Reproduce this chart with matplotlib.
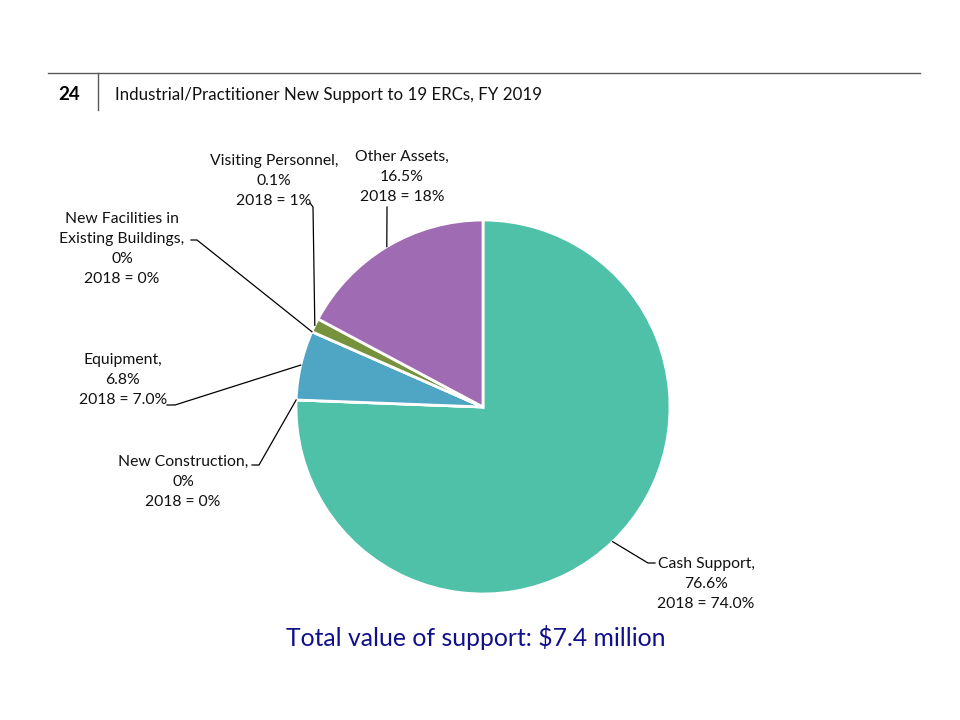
import numpy as np
import matplotlib
matplotlib.use("Agg")
import matplotlib.pyplot as plt
from matplotlib.lines import Line2D

# ---------------- data ----------------
categories = ["Cash Support", "New Construction", "Equipment",
              "New Facilities in\nExisting Buildings", "Visiting Personnel", "Other Assets"]
slice_share = [75.6, 0.0, 6.0, 0.0, 1.2, 17.2]          # drawn wedge sizes
pct_2019 = ["76.6%", "0%", "6.8%", "0%", "0.1%", "16.5%"]
pct_2018 = ["74.0%", "0%", "7.0%", "0%", "1%", "18%"]
colors = ["#50C1A9", "#50C1A9", "#4EA5C4", "#76923C", "#76923C", "#9F6BB2"]
title = "Industrial/Practitioner New Support to 19 ERCs, FY 2019"
slide_no = "24"
total_text = "Total value of support: $7.4 million"

W, H = 960, 720
FONT = "Lato"
plt.rcParams['font.family'] = [FONT, 'DejaVu Sans']

fig = plt.figure(figsize=(W / 100, H / 100), dpi=100)
fig.patch.set_facecolor("white")

def fx(x):
    return x / W

def fy(y):
    return 1 - y / H

# header
fig.add_artist(Line2D([fx(48), fx(920)], [fy(73), fy(73)], color="#595959", lw=1.0))
fig.add_artist(Line2D([fx(98), fx(98)], [fy(73), fy(110)], color="#595959", lw=1.0))
fig.text(fx(69), fy(94), slide_no, ha="center", va="center", fontsize=13.5,
         fontweight="bold", color="black")
fig.text(fx(115), fy(95), title, ha="left", va="center", fontsize=12.2, color="#111111")

# pie
cx, cy, R = 483, 407, 187
ax = fig.add_axes([fx(cx - R), fy(cy + R), 2 * R / W, 2 * R / H])
wedges, _ = ax.pie(slice_share, colors=colors, startangle=90, counterclock=False,
                   wedgeprops=dict(edgecolor="white", linewidth=2.0))
ax.set_xlim(-1, 1)
ax.set_ylim(-1, 1)
ax.set_aspect("equal")
ax.axis("off")

# label layout (pixel positions): text center, elbow points
layout = {
    0: dict(text=(706, 584), elbow=[(655, 563), (648, 563)]),
    1: dict(text=(183, 482), elbow=[(252, 465), (259, 465)]),
    2: dict(text=(123, 380), elbow=[(167, 405), (175, 405)]),
    3: dict(text=(122, 249), elbow=[(191, 240), (197, 240)]),
    4: dict(text=(274, 181), elbow=[(310, 203), (313, 207)]),
    5: dict(text=(402, 177), elbow=[(387, 207)]),
}

fig.canvas.draw()
inv = fig.transFigure.inverted()
for i, w in enumerate(wedges):
    mid = np.deg2rad((w.theta1 + w.theta2) / 2)
    edge_disp = ax.transData.transform((np.cos(mid), np.sin(mid)))
    ex, ey = inv.transform(edge_disp)
    lay = layout[i]
    pts = [(fx(x), fy(y)) for x, y in lay["elbow"]] + [(ex, ey)]
    xs, ys = zip(*pts)
    fig.add_artist(Line2D(xs, ys, color="black", lw=0.9))
    txt = f"{categories[i]},\n{pct_2019[i]}\n2018 = {pct_2018[i]}"
    tx, ty = lay["text"]
    fig.text(fx(tx), fy(ty), txt, ha="center", va="center", fontsize=11.3,
             color="#111111", linespacing=1.55, multialignment="center")

fig.text(fx(476), fy(638), total_text, ha="center", va="center", fontsize=17.8,
         color="#10108C")

fig.savefig("out.png", dpi=100, facecolor="white")
